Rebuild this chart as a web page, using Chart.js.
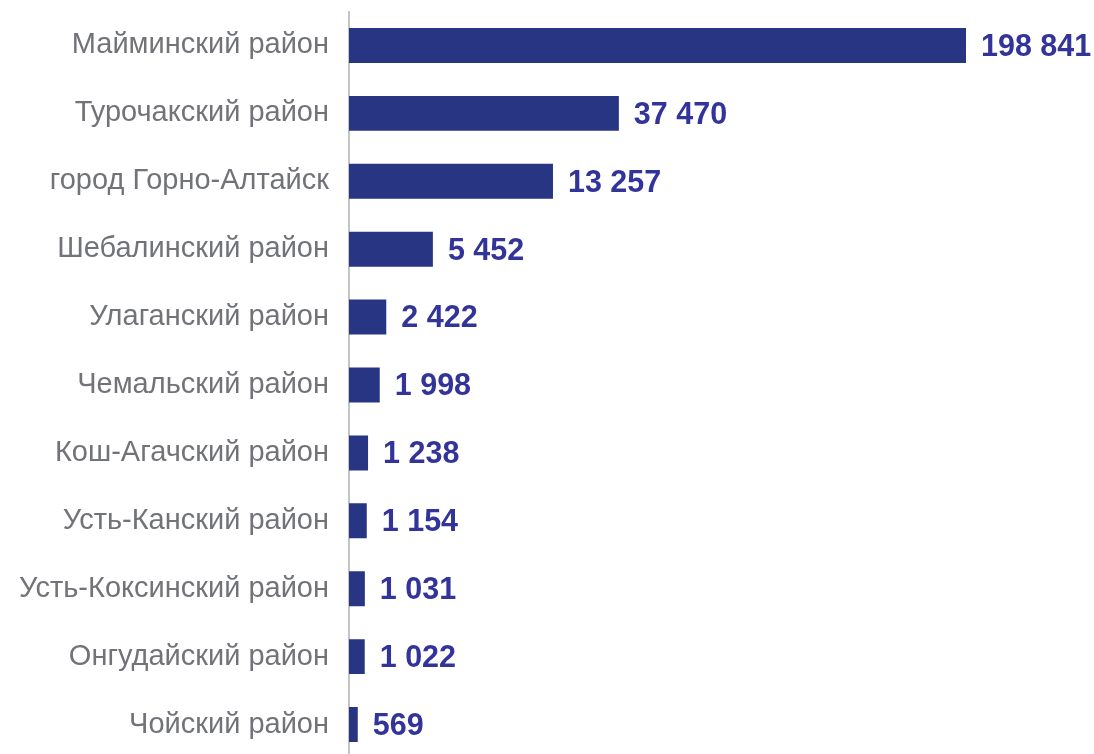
<!DOCTYPE html>
<html>
<head>
<meta charset="utf-8">
<script src="https://cdn.jsdelivr.net/npm/chart.js@4/dist/chart.umd.min.js"></script>
<style>
  html, body { margin: 0; padding: 0; background: #fff; overflow: hidden; }
  #wrap { position: relative; width: 1094px; height: 760px; }
</style>
</head>
<body>
<div id="wrap"><canvas id="myChart"></canvas></div>
<script>
var districts = [
  "Майминский район",
  "Турочакский район",
  "город Горно-Алтайск",
  "Шебалинский район",
  "Улаганский район",
  "Чемальский район",
  "Кош-Агачский район",
  "Усть-Канский район",
  "Усть-Коксинский район",
  "Онгудайский район",
  "Чойский район"
];
var counts = [198841, 37470, 13257, 5452, 2422, 1998, 1238, 1154, 1031, 1022, 569];

// linear scale with a break: values above breakAt are squeezed into the rest of the axis
class BrokenScale extends Chart.LinearScale {
  getPixelForValue(value) {
    if (value === null || value === undefined) return NaN;
    var brk = this.options.breakAt, share = this.options.breakShare;
    var min = this.min, max = this.max, f;
    if (value <= brk) {
      f = (value - min) / (brk - min) * share;
    } else {
      f = share + (value - brk) / (max - brk) * (1 - share);
    }
    return this.getPixelForDecimal(f);
  }
  getValueForPixel(pixel) {
    var brk = this.options.breakAt, share = this.options.breakShare;
    var f = this.getDecimalForPixel(pixel);
    if (f <= share) return this.min + f / share * (brk - this.min);
    return brk + (f - share) / (1 - share) * (this.max - brk);
  }
}
BrokenScale.id = "broken";
BrokenScale.defaults = Object.assign({}, Chart.LinearScale.defaults, { breakAt: 14300, breakShare: 0.3566 });
Chart.register(BrokenScale);

function fmt(v) {
  return String(v).replace(/\B(?=(\d{3})+(?!\d))/g, " ");
}

var valueLabels = {
  id: "valueLabels",
  afterDatasetsDraw: function (chart) {
    var ctx = chart.ctx;
    var meta = chart.getDatasetMeta(0);
    ctx.save();
    ctx.font = "bold 30.5px 'Liberation Sans', Arial, sans-serif";
    ctx.fillStyle = "#33349a";
    ctx.textAlign = "left";
    ctx.textBaseline = "middle";
    meta.data.forEach(function (bar, i) {
      ctx.fillText(fmt(counts[i]), bar.x + 15, bar.y + 2);
    });
    ctx.restore();
  }
};

var ctx = document.getElementById("myChart").getContext("2d");

var myChart = new Chart(ctx, {
  type: "bar",
  data: {
    labels: districts,
    datasets: [
      {
        data: counts,
        backgroundColor: "#283582",
        barPercentage: 0.515,
        categoryPercentage: 1,
      },
    ],
  },
  options: {
    indexAxis: "y",
    responsive: true,
    maintainAspectRatio: false,
    animation: false,
    layout: {
      padding: { top: 11.5, bottom: 1.5, left: 0, right: 128 },
    },
    plugins: {
      legend: { display: false },
      tooltip: { enabled: false },
    },
    scales: {
      x: {
        type: "broken",
        display: false,
        min: 0,
        max: 198841,
      },
      y: {
        grid: { display: false, drawTicks: false },
        border: { display: true, color: "#c4c4c4", width: 2 },
        ticks: {
          padding: 20,
          color: "#717378",
          font: { family: "'Liberation Sans', Arial, sans-serif", size: 29 },
        },
        afterFit: function (scale) {
          scale.width = 349;
          scale.paddingTop = 0;
          scale.paddingBottom = 0;
        },
      },
    },
  },
  plugins: [valueLabels],
});
</script>
</body>
</html>
